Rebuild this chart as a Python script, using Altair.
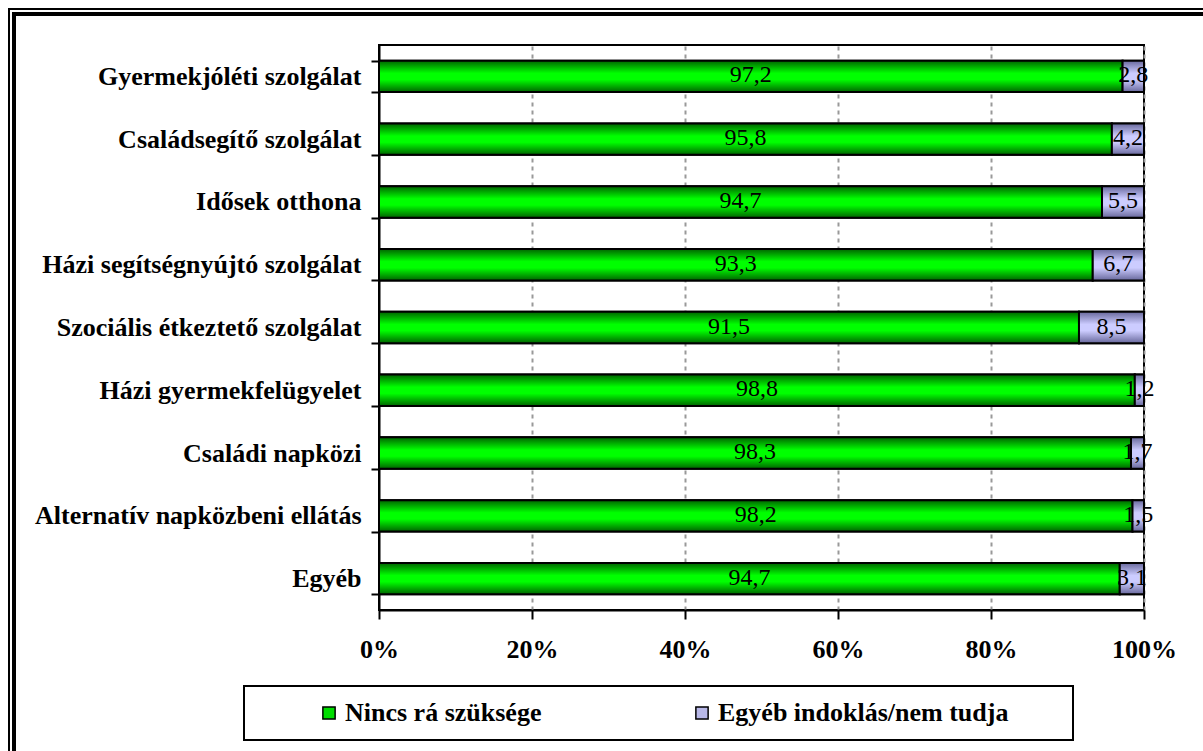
import altair as alt
import pandas as pd

# Service categories, top to bottom
categories = [
    "Gyermekjóléti szolgálat",
    "Családsegítő szolgálat",
    "Idősek otthona",
    "Házi segítségnyújtó szolgálat",
    "Szociális étkeztető szolgálat",
    "Házi gyermekfelügyelet",
    "Családi napközi",
    "Alternatív napközbeni ellátás",
    "Egyéb",
]
series = ["Nincs rá szüksége", "Egyéb indoklás/nem tudja"]
no_need = [97.2, 95.8, 94.7, 93.3, 91.5, 98.8, 98.3, 98.2, 94.7]
other_reason = [2.8, 4.2, 5.5, 6.7, 8.5, 1.2, 1.7, 1.5, 3.1]
x_ticks = [0, 0.2, 0.4, 0.6, 0.8, 1.0]

rows = []
for i, cat in enumerate(categories):
    for order, (name, vals) in enumerate(zip(series, [no_need, other_reason])):
        v = vals[i]
        rows.append({
            "category": cat,
            "series": name,
            "order": order,
            "value": v,
            "label": f"{v:.1f}".replace(".", ","),
        })
df = pd.DataFrame(rows)

FONT = "Liberation Serif"
W, H = 765, 565


def band_gradient(edge, mid):
    return alt.Gradient(
        gradient="linear", x1=0, x2=0, y1=0, y2=1,
        stops=[
            alt.GradientStop(offset=0, color=edge),
            alt.GradientStop(offset=0.4, color=mid),
            alt.GradientStop(offset=0.6, color=mid),
            alt.GradientStop(offset=1, color=edge),
        ],
    )


green_fill = band_gradient("#006400", "#00ff00")
lilac_fill = band_gradient("#68689c", "#ccccff")

# Shares of each row are normalised to 100% and stacked left to right
base = (
    alt.Chart(df)
    .transform_joinaggregate(total="sum(value)", groupby=["category"])
    .transform_calculate(share="datum.value / datum.total")
    .transform_stack(
        stack="share", groupby=["category"], as_=["x0", "x1"],
        sort=[alt.SortField("order", order="ascending")],
    )
    .transform_calculate(mid="(datum.x0 + datum.x1) / 2")
)

y_enc = alt.Y(
    "category:N",
    sort=categories,
    title=None,
    scale=alt.Scale(paddingInner=0.5, paddingOuter=0.25),
    axis=alt.Axis(
        tickBand="extent", tickSize=8, tickWidth=2, tickColor="black",
        domainColor="black", domainWidth=2,
        labelFont=FONT, labelFontSize=26, labelFontWeight="bold",
        labelColor="black", labelPadding=10, labelLimit=0, grid=False,
    ),
)
x_enc = alt.X(
    "x0:Q",
    title=None,
    scale=alt.Scale(domain=[0, 1], nice=False),
    axis=alt.Axis(
        values=x_ticks, format=".0%",
        tickSize=9, tickWidth=2, tickColor="black",
        domainColor="black", domainWidth=2,
        labelFont=FONT, labelFontSize=26, labelFontWeight="bold",
        labelColor="black", labelPadding=17, labelFlush=False,
        grid=True, gridDash=[4, 4], gridWidth=2,
        gridColor={"condition": {"test": "datum.value === 0", "value": "transparent"},
                   "value": "#999999"},
    ),
)

bars = base.mark_bar(stroke="black", strokeWidth=2).encode(
    y=y_enc,
    x=x_enc,
    x2="x1:Q",
    color=alt.Color(
        "series:N",
        sort=series,
        scale=alt.Scale(domain=series, range=["#00dd00", "#b8b8e8"]),
        legend=alt.Legend(title=None),
    ),
)

shaded = base.mark_bar(stroke="black", strokeWidth=2).encode(
    y=alt.Y("category:N", sort=categories),
    x="x0:Q",
    x2="x1:Q",
    fill=alt.condition(
        alt.datum.order == 0, alt.value(green_fill), alt.value(lilac_fill)
    ),
)

labels = base.mark_text(
    font=FONT, fontSize=24, color="black", baseline="middle", dy=-1
).encode(
    y=alt.Y("category:N", sort=categories),
    x="mid:Q",
    text="label:N",
)

# Decorative frame around the whole figure and the legend box
one = pd.DataFrame({"k": [0]})
frame_outer = alt.Chart(one).mark_rect(
    fillOpacity=0, stroke="black", strokeWidth=2
).encode(x=alt.value(-370), x2=alt.value(1200), y=alt.value(-36), y2=alt.value(900))
frame_inner = alt.Chart(one).mark_rect(
    fillOpacity=0, stroke="black", strokeWidth=4
).encode(x=alt.value(-365), x2=alt.value(1200), y=alt.value(-31), y2=alt.value(900))
legend_box = alt.Chart(one).mark_rect(
    fillOpacity=0, stroke="black", strokeWidth=2
).encode(x=alt.value(-135), x2=alt.value(694), y=alt.value(641), y2=alt.value(695))

chart = (
    alt.layer(frame_outer, frame_inner, legend_box, bars, shaded, labels)
    .properties(
        width=W, height=H,
        padding={"left": 379, "top": 45, "right": 59, "bottom": 141},
        autosize=alt.AutoSizeParams(type="none"),
        background="white",
    )
    .configure_view(stroke="black", strokeWidth=2)
    .configure_legend(
        orient="none", legendX=-63, legendY=655, direction="horizontal",
        symbolType="square", symbolSize=150, symbolStrokeColor="black",
        symbolStrokeWidth=1.5, symbolOpacity=1,
        labelFont=FONT, labelFontSize=26, labelFontWeight="bold",
        labelColor="black", labelOffset=3, columnPadding=147, padding=0,
        labelLimit=0,
    )
)

chart.save("out.html", embed_options={"renderer": "svg", "actions": False})
